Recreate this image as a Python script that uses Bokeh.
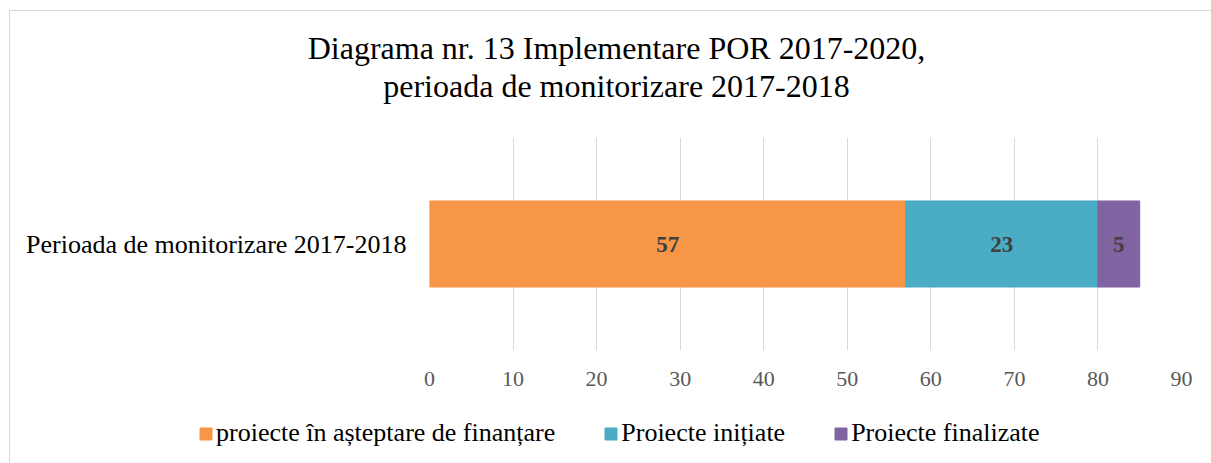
from bokeh.plotting import figure
from bokeh.layouts import column
from bokeh.models import Range1d, FactorRange, FixedTicker, ColumnDataSource, Legend, LegendItem, Label
from bokeh.core.properties import value
from bokeh.embed import file_html
from bokeh.resources import INLINE

# ---- data ----
categories = ["Perioada de monitorizare 2017-2018"]
series_keys = ["asteptare", "initiate", "finalizate"]
series_names = ["proiecte în așteptare de finanțare", "Proiecte inițiate", "Proiecte finalizate"]
values_asteptare = [57]
values_initiate = [23]
values_finalizate = [5]
colors = ["#F79646", "#4BACC6", "#8064A2"]
x_ticks = [0, 10, 20, 30, 40, 50, 60, 70, 80, 90]
title_lines = ["Diagrama nr. 13 Implementare POR 2017-2020,", "perioada de monitorizare 2017-2018"]

SERIF = "Liberation Serif"
W = 1201
H_TITLE, H_MAIN, H_LEG = 109, 280, 63

source = ColumnDataSource(dict(cat=categories, asteptare=values_asteptare,
                               initiate=values_initiate, finalizate=values_finalizate))

# ---- title strip ----
t = figure(width=W, height=H_TITLE, x_range=Range1d(0, W), y_range=Range1d(H_TITLE, 0),
           x_axis_type=None, y_axis_type=None, output_backend="svg", toolbar_location=None,
           min_border_left=0, min_border_right=0, min_border_top=0, min_border_bottom=0,
           title=None, frame_align=False)
t.outline_line_color = None
for i, line in enumerate(title_lines):
    t.add_layout(Label(x=606, y=36 + 38 * i, text=line, text_align="center",
                       text_baseline="alphabetic", text_font=SERIF,
                       text_font_size="32px", text_color="#000000"))

# ---- main chart ----
p = figure(width=W, height=H_MAIN, y_range=FactorRange(*categories),
           x_range=Range1d(0, 90), output_backend="svg", toolbar_location=None,
           min_border_left=419, min_border_right=30, min_border_top=17,
           min_border_bottom=50, title=None, frame_align=False)

rs = p.hbar_stack(series_keys, y="cat", height=0.404, color=colors, source=source)

xc, txt, cats = [], [], []
for cat_i, cat in enumerate(categories):
    left = 0
    for vals in (values_asteptare, values_initiate, values_finalizate):
        v = vals[cat_i]
        xc.append(left + v / 2)
        txt.append(str(v))
        cats.append(cat)
        left += v
p.text(x="xc", y="cat", text="txt", source=ColumnDataSource(dict(xc=xc, txt=txt, cat=cats)),
       text_align="center", text_baseline="middle", text_font=value(SERIF),
       text_font_style="bold", text_font_size="23px", text_color="#404040")

p.xaxis.ticker = FixedTicker(ticks=x_ticks)
p.xaxis.axis_line_color = None
p.xaxis.major_tick_line_color = None
p.xaxis.major_tick_out = 0
p.xaxis.major_tick_in = 0
p.xaxis.minor_tick_line_color = None
p.xaxis.major_label_text_font = SERIF
p.xaxis.major_label_text_font_size = "22px"
p.xaxis.major_label_text_color = "#595959"
p.xaxis.major_label_standoff = 21

p.yaxis.axis_line_color = None
p.yaxis.major_tick_line_color = None
p.yaxis.major_tick_out = 0
p.yaxis.major_tick_in = 0
p.yaxis.minor_tick_line_color = None
p.yaxis.major_label_text_font = SERIF
p.yaxis.major_label_text_font_size = "26px"
p.yaxis.major_label_text_color = "#000000"
p.yaxis.major_label_standoff = 23

p.xgrid.grid_line_color = "#d9d9d9"
p.xgrid.grid_line_width = 1
p.ygrid.grid_line_color = None
p.outline_line_color = None

# ---- legend strip ----
lf = figure(width=W, height=H_LEG, y_range=FactorRange(*categories), x_range=Range1d(0, 90),
            x_axis_type=None, y_axis_type=None, output_backend="svg", toolbar_location=None,
            min_border_left=0, min_border_right=0, min_border_top=0, min_border_bottom=0,
            title=None, frame_align=False)
lf.outline_line_color = None
lrs = lf.hbar_stack(series_keys, y="cat", height=0.404, color=colors, source=source)
for r in lrs:
    r.visible = False
lg = Legend(items=[LegendItem(label=n, renderers=[r]) for n, r in zip(series_names, lrs)],
            orientation="horizontal", location=(188, 15))
lg.border_line_color = None
lg.background_fill_alpha = 0
lg.inactive_fill_alpha = 0
lg.padding = 0
lg.margin = 0
lg.spacing = 48
lg.label_standoff = 3
lg.glyph_width = 15
lg.glyph_height = 15
lg.label_text_font = SERIF
lg.label_text_font_size = "26px"
lg.label_text_color = "#000000"
lf.add_layout(lg)

layout = column(t, p, lf, spacing=0)
layout.styles = {"margin-left": "9px", "margin-top": "10px",
                 "border-left": "1px solid #d9d9d9", "border-top": "1px solid #d9d9d9"}

open("out.html", "w").write(file_html(layout, INLINE))
